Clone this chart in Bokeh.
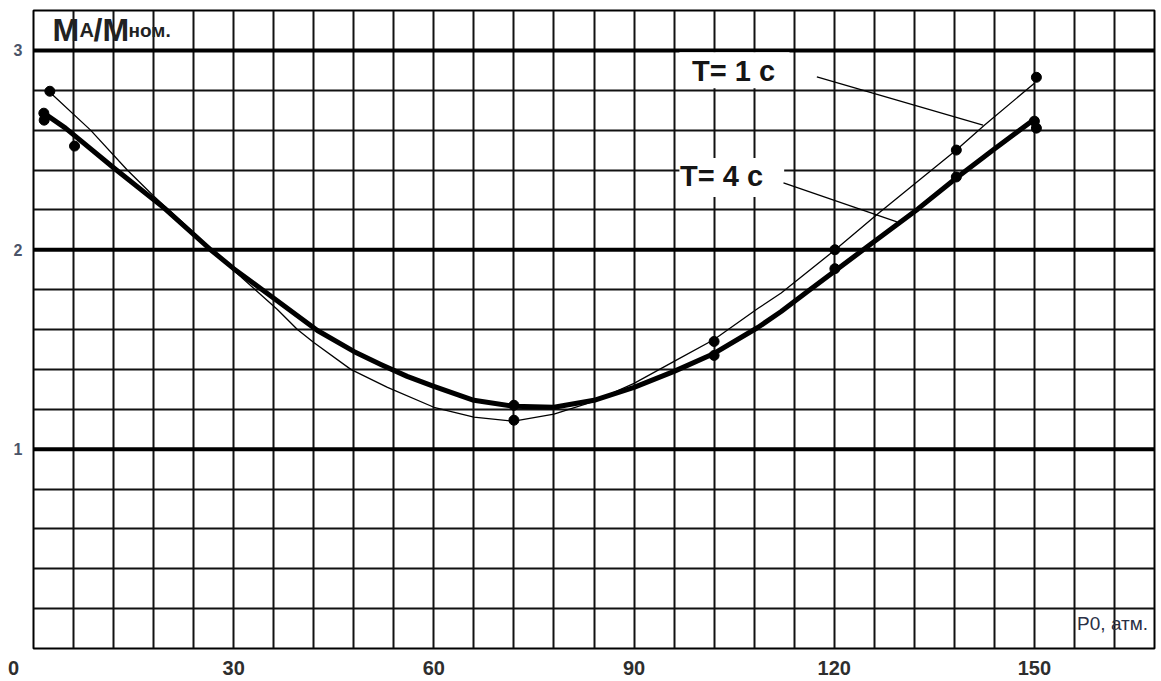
from bokeh.plotting import figure
from bokeh.models import Range1d, FixedTicker, Span, Label, BoxAnnotation
from bokeh.embed import file_html
from bokeh.resources import INLINE

# ---- data ----
# T = 1 c (thin curve)
t1_curve_x = [2.45, 8.55, 14.05, 18.0, 24.55, 26.55, 36.55, 39.55, 42.0, 47.55, 53.05, 60.0, 66.0,
              72.0, 78.0, 84.0, 90.0, 96.0, 102.0, 108.55, 112.05, 120.15, 126.55, 133.5, 138.3,
              142.5, 150.0]
t1_curve_y = [2.79, 2.60, 2.40, 2.27, 2.07, 2.00, 1.70, 1.60, 1.535, 1.40, 1.31, 1.21, 1.16,
              1.14, 1.175, 1.24, 1.33, 1.44, 1.55, 1.705, 1.783, 2.00, 2.18, 2.37, 2.50,
              2.625, 2.835]
t1_pts_x = [2.45, 72.0, 102.0, 120.1, 138.3, 150.3]
t1_pts_y = [2.795, 1.145, 1.54, 2.0, 2.50, 2.865]

# T = 4 c (thick curve)
t4_curve_x = [1.55, 4.8, 12.05, 19.55, 26.55, 30.0, 35.05, 42.55, 48.0, 52.05, 56.0, 60.0, 66.0,
              72.0, 78.0, 84.0, 90.0, 96.0, 102.0, 108.55, 112.05, 116.0, 120.15, 125.55, 132.55,
              138.3, 144.0, 150.0]
t4_curve_y = [2.685, 2.61, 2.41, 2.21, 2.00, 1.905, 1.78, 1.595, 1.49, 1.425, 1.365, 1.315, 1.245,
              1.215, 1.21, 1.245, 1.31, 1.39, 1.48, 1.61, 1.69, 1.79, 1.895, 2.03, 2.205,
              2.36, 2.505, 2.655]
t4_pts_x = [1.55, 1.6, 6.15, 72.0, 102.0, 120.1, 138.3, 150.0, 150.3]
t4_pts_y = [2.685, 2.65, 2.52, 1.22, 1.47, 1.905, 2.365, 2.645, 2.61]

# leader lines from labels to curves
lead1_x = [117.4, 142.3]
lead1_y = [2.867, 2.625]
lead4_x = [112.4, 129.4]
lead4_y = [2.335, 2.14]

x_ticks = [0, 30, 60, 90, 120, 150]
y_ticks = [1, 2, 3]
heavy_levels = [1, 2, 3]
x_grid = list(range(0, 169, 6))
y_grid = [round(0.2 * i, 1) for i in range(17)]

p = figure(width=1161, height=681, x_range=Range1d(0, 168), y_range=Range1d(0, 3.2),
           output_backend="svg", toolbar_location=None,
           min_border_left=33, min_border_right=7, min_border_top=10, min_border_bottom=31)
p.background_fill_color = "white"
p.border_fill_color = "white"
p.outline_line_color = "black"
p.outline_line_width = 2

# grid
p.xgrid.ticker = FixedTicker(ticks=x_grid)
p.ygrid.ticker = FixedTicker(ticks=y_grid)
for g in (p.xgrid, p.ygrid):
    g.grid_line_color = "#111111"
    g.grid_line_width = 2
    g.grid_line_alpha = 1.0

for lv in heavy_levels:
    p.add_layout(Span(location=lv, dimension="width", line_color="black",
                      line_width=4, level="underlay"))

# axes
p.xaxis.ticker = FixedTicker(ticks=x_ticks)
p.yaxis.ticker = FixedTicker(ticks=y_ticks)
for ax in (p.xaxis, p.yaxis):
    ax.axis_line_color = None
    ax.major_tick_line_color = None
    ax.minor_tick_line_color = None
    ax.major_tick_out = 0
    ax.major_tick_in = 0
    ax.major_label_text_font = "Liberation Sans"
    ax.major_label_text_font_style = "bold"
p.xaxis.major_label_text_font_size = "20px"
p.xaxis.major_label_text_color = "#2e2e2e"
p.xaxis.major_label_standoff = 8
p.xaxis.major_label_overrides = {0: "0\u2003\u2003"}
p.yaxis.major_label_text_font_size = "16px"
p.yaxis.major_label_text_color = "#4a5468"
p.yaxis.major_label_standoff = 11

# label boxes (white)
p.add_layout(BoxAnnotation(left=96.8, right=113.3, bottom=2.81, top=2.99,
                           fill_color="white", fill_alpha=1, line_color=None, level="underlay"))
p.add_layout(BoxAnnotation(left=96.8, right=112.5, bottom=2.265, top=2.46,
                           fill_color="white", fill_alpha=1, line_color=None, level="underlay"))

# leader lines
p.line(lead1_x, lead1_y, line_color="black", line_width=1.3)
p.line(lead4_x, lead4_y, line_color="black", line_width=1.3)

# curves
p.line(t1_curve_x, t1_curve_y, line_color="black", line_width=1.3, line_join="round")
p.line(t4_curve_x, t4_curve_y, line_color="black", line_width=5, line_join="round")
p.scatter(t1_pts_x, t1_pts_y, size=10, fill_color="black", line_color="black")
p.scatter(t4_pts_x, t4_pts_y, size=10, fill_color="black", line_color="black")

# texts
font = "Liberation Sans"
p.add_layout(Label(x=156.4, y=0.125, text="P0, атм.", text_font=font,
                   text_font_size="19px", text_color="#2a3045",
                   text_align="left", text_baseline="middle"))

# y-axis title  MА/Mном.
title_parts = [("M", "32px", 19), ("А", "20px", 46), ("/M", "32px", 60), ("ном.", "19px", 95)]
for txt, fs, off in title_parts:
    p.add_layout(Label(x=0, y=3.10, x_offset=off, text=txt, text_font=font,
                       text_font_style="bold", text_font_size=fs, text_color="#222222",
                       text_align="left", text_baseline="alphabetic"))

p.add_layout(Label(x=98.7, y=2.895, text="T= 1 c", text_font=font, text_font_style="bold",
                   text_font_size="29px", text_color="#151515",
                   text_align="left", text_baseline="middle"))
p.add_layout(Label(x=96.9, y=2.37, text="T= 4 c", text_font=font, text_font_style="bold",
                   text_font_size="29px", text_color="#151515",
                   text_align="left", text_baseline="middle"))

open("out.html", "w").write(file_html(p, INLINE))
